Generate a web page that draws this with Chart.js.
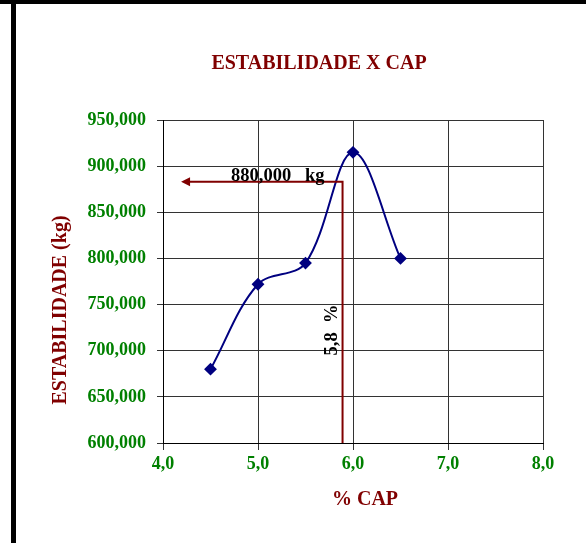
<!DOCTYPE html>
<html>
<head>
<meta charset="utf-8">
<script src="https://cdn.jsdelivr.net/npm/chart.js@4/dist/chart.umd.min.js"></script>
<style>
html,body{margin:0;padding:0;background:#fff;}
#wrap{position:relative;width:586px;height:543px;overflow:hidden;}
#c{position:absolute;left:0;top:0;}
.bar{position:absolute;background:#000;}
</style>
</head>
<body>
<div id="wrap">
<canvas id="c" width="586" height="543"></canvas>
<div class="bar" style="left:0;top:0;width:586px;height:4px;"></div>
<div class="bar" style="left:11px;top:0;width:5px;height:543px;"></div>
</div>
<script>
// ---- data ----
const capPct = [4.5, 5.0, 5.5, 6.0, 6.5];
const estabilidade = [680, 772, 795, 915, 800];
const chartTitle = 'ESTABILIDADE X CAP';
const xTitle = '% CAP';
const yTitle = 'ESTABILIDADE (kg)';
const xTicks = [4, 5, 6, 7, 8];
const yTicks = [600, 650, 700, 750, 800, 850, 900, 950];
// annotation
const annCap = 5.89;
const annEstab = 883;
const annArrowEnd = 4.19;
const annLabelY = '880,000   kg';
const annLabelX = '5,8  %';

const SERIF = '"Liberation Serif","Times New Roman",serif';
const RED = '#800000';
const GREEN = '#008000';

const fmtY = v => v.toFixed(3).replace('.', ',');
const fmtX = v => v.toFixed(1).replace('.', ',');

const overlay = {
  id: 'overlay',
  afterDatasetsDraw(chart) {
    const {ctx, scales: {x, y}} = chart;
    ctx.save();
    // annotation lines
    const px = x.getPixelForValue(annCap);
    const py = y.getPixelForValue(annEstab);
    const p0 = y.getPixelForValue(600);
    const tip = x.getPixelForValue(annArrowEnd);
    ctx.strokeStyle = RED;
    ctx.lineWidth = 2;
    ctx.beginPath();
    ctx.moveTo(px, p0);
    ctx.lineTo(px, py);
    ctx.lineTo(tip + 7, py);
    ctx.stroke();
    ctx.fillStyle = RED;
    ctx.beginPath();
    ctx.moveTo(tip, py);
    ctx.lineTo(tip + 9, py - 4.5);
    ctx.lineTo(tip + 9, py + 4.5);
    ctx.closePath();
    ctx.fill();
    // annotation text
    ctx.fillStyle = '#000';
    ctx.font = 'bold 18.5px ' + SERIF;
    ctx.textAlign = 'left';
    ctx.textBaseline = 'alphabetic';
    ctx.fillText(annLabelY, 231, 181);
    ctx.save();
    ctx.translate(337, 330);
    ctx.rotate(-Math.PI / 2);
    ctx.textAlign = 'center';
    ctx.fillText(annLabelX, 0, 0);
    ctx.restore();
    // titles
    ctx.fillStyle = RED;
    ctx.font = 'bold 20px ' + SERIF;
    ctx.textAlign = 'center';
    ctx.textBaseline = 'middle';
    ctx.fillText(chartTitle, 319, 64);
    ctx.fillText(xTitle, 365, 500);
    ctx.save();
    ctx.translate(61, 310);
    ctx.rotate(-Math.PI / 2);
    ctx.fillText(yTitle, 0, 0);
    ctx.restore();
    ctx.restore();
  }
};

new Chart(document.getElementById('c'), {
  type: 'scatter',
  data: {
    datasets: [{
      data: capPct.map((v, i) => ({x: v, y: estabilidade[i]})),
      showLine: true,
      borderColor: '#000080',
      backgroundColor: '#000080',
      borderWidth: 2,
      tension: 0.35,
      pointStyle: 'rectRot',
      pointRadius: 5,
      pointHoverRadius: 5,
      fill: false
    }]
  },
  options: {
    responsive: false,
    animation: false,
    events: [],
    layout: {padding: {left: 0, right: 43, top: 120, bottom: 0}},
    plugins: {legend: {display: false}, tooltip: {enabled: false}, title: {display: false}},
    scales: {
      x: {
        type: 'linear', min: 4, max: 8,
        afterBuildTicks: s => { s.ticks = xTicks.map(v => ({value: v})); },
        afterFit: s => { s.height = 100; },
        ticks: {color: GREEN, font: {family: SERIF, size: 18, weight: 'bold'}, padding: 4, callback: v => fmtX(v)},
        grid: {color: '#333', lineWidth: 1, tickLength: 7, drawTicks: true},
        border: {color: '#000', width: 1}
      },
      y: {
        type: 'linear', min: 600, max: 950,
        afterBuildTicks: s => { s.ticks = yTicks.map(v => ({value: v})); },
        afterFit: s => { s.width = 163; },
        ticks: {color: GREEN, font: {family: SERIF, size: 18, weight: 'bold'}, padding: 11, callback: v => fmtY(v)},
        grid: {color: '#333', lineWidth: 1, tickLength: 6, drawTicks: true},
        border: {color: '#000', width: 1}
      }
    }
  },
  plugins: [overlay]
});
</script>
</body>
</html>
